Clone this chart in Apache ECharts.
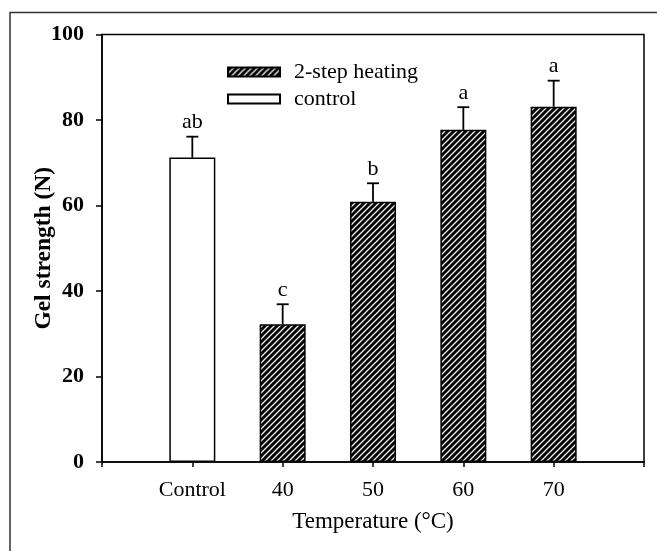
<!DOCTYPE html>
<html>
<head>
<meta charset="utf-8">
<script src="https://cdn.jsdelivr.net/npm/echarts@6/dist/echarts.min.js"></script>
<style>
html,body{margin:0;padding:0;background:#fff;}
#chart{width:657px;height:551px;}
</style>
</head>
<body>
<div id="chart"></div>
<script>
// ---- data ----
const categories = ['Control', '40', '50', '60', '70'];
const gelMeans = [71.2, 32.2, 60.9, 77.7, 83.1];
const gelErrors = [4.9, 4.7, 4.3, 5.3, 6.1];
const sigLetters = ['ab', 'c', 'b', 'a', 'a'];
const groupOf = ['control', 'heat', 'heat', 'heat', 'heat'];
const yTicks = [0, 20, 40, 60, 80, 100];

// padded category axis (empty slots at both ends)
const axisCats = [''].concat(categories, ['']);
const controlData = axisCats.map(() => '-');
const heatData = axisCats.map(() => '-');
categories.forEach((c, i) => {
  if (groupOf[i] === 'control') controlData[i + 1] = gelMeans[i];
  else heatData[i + 1] = gelMeans[i];
});
const errData = categories.map((c, i) => [i + 1, gelMeans[i], gelErrors[i], sigLetters[i]]);

// hatch pattern
function makeHatch() {
  const s = 6;
  const cv = document.createElement('canvas');
  cv.width = s; cv.height = s;
  const g = cv.getContext('2d');
  g.fillStyle = '#000';
  g.fillRect(0, 0, s, s);
  g.strokeStyle = '#f0f0f0';
  g.lineWidth = 1.3;
  g.beginPath();
  g.moveTo(0, s); g.lineTo(s, 0);
  g.moveTo(-1, 1); g.lineTo(1, -1);
  g.moveTo(s - 1, s + 1); g.lineTo(s + 1, s - 1);
  g.stroke();
  return cv;
}
const hatch = { image: makeHatch(), repeat: 'repeat' };

const FONT = "'Liberation Serif', 'DejaVu Serif', serif";
const chart = echarts.init(document.getElementById('chart'), null, { renderer: 'canvas' });

chart.setOption({
  animation: false,
  backgroundColor: '#fff',
  graphic: [{
    type: 'rect',
    shape: { x: 10, y: 12.5, width: 720, height: 620 },
    style: { fill: 'none', stroke: '#333', lineWidth: 1.5 },
    silent: true, z: -1
  }],
  grid: {
    left: 102, right: 13, top: 34.5, bottom: 89,
    show: true, borderColor: '#000', borderWidth: 1.5, backgroundColor: 'transparent'
  },
  legend: {
    orient: 'vertical',
    left: 222, top: 56,
    itemWidth: 52, itemHeight: 9, itemGap: 5,
    icon: 'rect',
    data: ['2-step heating', 'control'],
    textStyle: { fontFamily: FONT, fontSize: 22, color: '#000', padding: [0, 0, 0, 9] }
  },
  xAxis: {
    type: 'category',
    data: axisCats,
    boundaryGap: false,
    axisLine: { lineStyle: { color: '#000', width: 1.5 } },
    axisTick: { show: true, inside: false, length: 5, interval: 0, lineStyle: { color: '#000', width: 1.5 } },
    axisLabel: { interval: 0, margin: 17, fontFamily: FONT, fontSize: 22, color: '#000' },
    name: 'Temperature (°C)',
    nameLocation: 'middle',
    nameGap: 48,
    nameMoveOverlap: false,
    nameTextStyle: { fontFamily: FONT, fontSize: 23, color: '#000' }
  },
  yAxis: {
    type: 'value',
    min: yTicks[0], max: yTicks[yTicks.length - 1], interval: 20,
    splitLine: { show: false },
    axisLine: { show: true, lineStyle: { color: '#000', width: 1.5 } },
    axisTick: { show: true, inside: false, length: 6, lineStyle: { color: '#000', width: 1.5 } },
    axisLabel: { margin: 18, fontFamily: FONT, fontSize: 22, fontWeight: 'bold', color: '#000' },
    name: 'Gel strength (N)',
    nameLocation: 'middle',
    nameGap: 46,
    nameMoveOverlap: false,
    nameTextStyle: { fontFamily: FONT, fontSize: 23.5, fontWeight: 'bold', color: '#000' }
  },
  series: [
    {
      name: '2-step heating', type: 'bar', data: heatData, barWidth: 46, barGap: '-100%',
      itemStyle: { color: hatch, borderColor: '#000', borderWidth: 1.5 }
    },
    {
      name: 'control', type: 'bar', data: controlData, barWidth: 46, barGap: '-100%',
      itemStyle: { color: '#fff', borderColor: '#000', borderWidth: 1.5 }
    },
    {
      name: 'err', type: 'custom', data: errData,
      encode: { x: 0, y: 1 },
      renderItem: function (params, api) {
        const x = api.value(0), m = api.value(1), e = api.value(2);
        const letter = errData[params.dataIndex][3];
        const p0 = api.coord([x, m]);
        const p1 = api.coord([x, m + e]);
        return {
          type: 'group',
          children: [
            { type: 'line', shape: { x1: p0[0], y1: p0[1], x2: p1[0], y2: p1[1] }, style: { stroke: '#000', lineWidth: 1.8 } },
            { type: 'line', shape: { x1: p1[0] - 6, y1: p1[1], x2: p1[0] + 6, y2: p1[1] }, style: { stroke: '#000', lineWidth: 1.8 } },
            { type: 'text', x: p1[0], y: p1[1] - 3, style: { text: letter, fontFamily: FONT, fontSize: 22, fill: '#000', align: 'center', verticalAlign: 'bottom' } }
          ]
        };
      },
      z: 5
    }
  ]
});
</script>
</body>
</html>
